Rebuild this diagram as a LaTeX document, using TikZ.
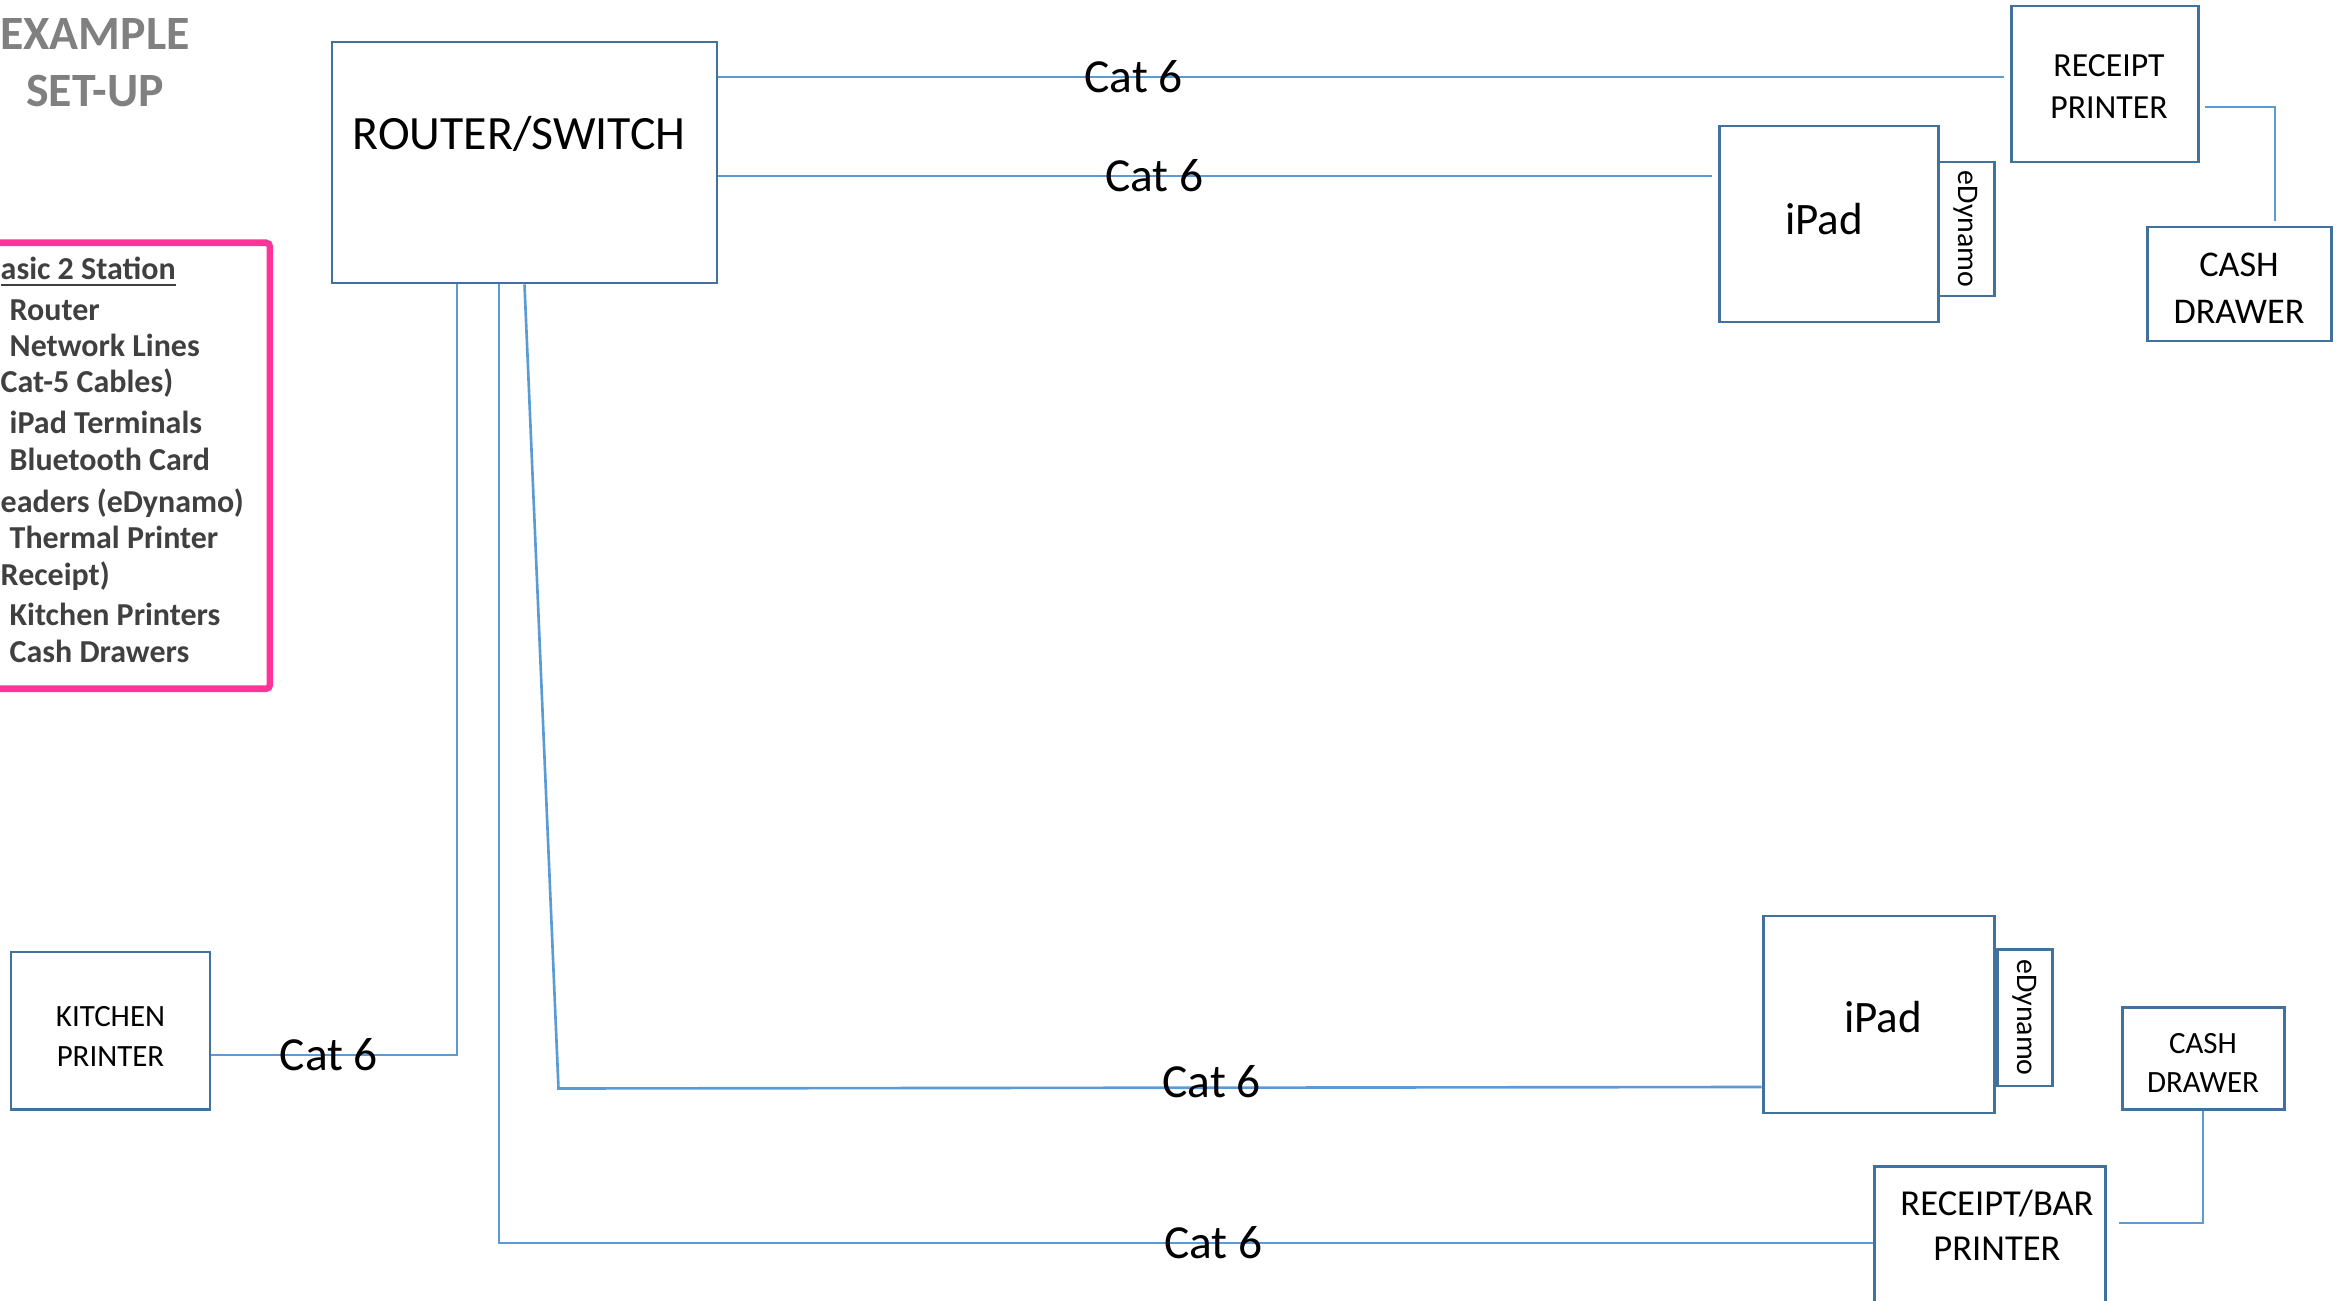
\documentclass[tikz,border=0pt]{standalone}
\usepackage{fontspec}
\setmainfont{Carlito}
\usepackage{tikz}
\usetikzlibrary{calc}

\definecolor{boxblue}{HTML}{41719C}
\definecolor{cableblue}{HTML}{5B9BD5}
\definecolor{legendpink}{HTML}{FF3399}
\definecolor{titlegray}{HTML}{808080}
\definecolor{listgray}{HTML}{404040}

\tikzset{
  device/.style={draw=boxblue, line width=0.85pt, inner sep=0pt, align=center, fill=white},
  devtext/.style={align=center, inner sep=0pt},
  cable/.style={draw=cableblue, line width=0.75pt},
  catlabel/.style={font=\fontsize{13.5}{16}\selectfont, inner sep=0pt},
  legendtext/.style={font=\bfseries\fontsize{9.1}{11}\selectfont, text=listgray, inner sep=0pt, anchor=base west},
}

\begin{document}
\begin{tikzpicture}[x=0.1mm, y=-0.1mm]
\useasboundingbox (0,0) rectangle (2341,1301);
\clip (0,0) rectangle (2341,1301);

% title and legend
\node (title) [font=\bfseries\fontsize{13.6}{16.2}\selectfont, text=titlegray, align=center] at (95,63) {EXAMPLE\\SET-UP};
\node (legendframe) [draw=legendpink, line width=1.85pt, rounded corners=1pt, minimum width=3.3cm, minimum height=4.46cm, anchor=north east] at (273,239.5) {};
\foreach \y/\x/\t [count=\i] in {280/0/{\underline{asic 2 Station}}, 320/9/{Router}, 357/9/{Network Lines},
    393/0/{Cat-5 Cables)}, 433/9/{iPad Terminals}, 470/9/{Bluetooth Card}, 512/0/{eaders (eDynamo)},
    548/9/{Thermal Printer}, 585/0/{Receipt)}, 625/9/{Kitchen Printers}, 662/9/{Cash Drawers}}
  \node (item\i) [legendtext] at (\x,\y) {\t};

% devices
\node (router) [device, minimum width=3.85cm, minimum height=2.41cm,
  label={[devtext, font=\fontsize{13.6}{16}\selectfont, xshift=-0.55mm, yshift=2.85mm]center:ROUTER/SWITCH}] at (524.5,162.5) {};
\node (rcptA) [device, minimum width=1.87cm, minimum height=1.56cm,
  label={[devtext, font=\fontsize{9.6}{11.95}\selectfont, xshift=0.45mm, yshift=-0.3mm]center:RECEIPT\\PRINTER}] at (2104.5,84) {};
\node (ipadA) [device, minimum width=2.19cm, minimum height=1.96cm,
  label={[devtext, font=\fontsize{12.8}{15}\selectfont, xshift=-0.45mm, yshift=0.45mm]center:iPad}] at (1828.5,224) {};
\node (edynA) [device, rotate=-90, minimum width=1.34cm, minimum height=0.56cm, font=\fontsize{8.5}{10}\selectfont] at (1966,229) {eDynamo};
\node (cashA) [device, minimum width=1.84cm, minimum height=1.14cm,
  label={[devtext, font=\fontsize{10.3}{13.4}\selectfont, yshift=-0.4mm]center:CASH\\DRAWER}] at (2239,284) {};
\node (kitchen) [device, minimum width=1.99cm, minimum height=1.57cm,
  label={[devtext, font=\fontsize{8.8}{11.4}\selectfont, yshift=-0.6mm]center:KITCHEN\\PRINTER}] at (110.5,1030.5) {};
\node (ipadB) [device, minimum width=2.31cm, minimum height=1.97cm,
  label={[devtext, font=\fontsize{12.8}{15}\selectfont, xshift=0.45mm, yshift=-0.3mm]center:iPad}] at (1878.5,1014.5) {};
\node (edynB) [device, rotate=-90, minimum width=1.37cm, minimum height=0.55cm, font=\fontsize{8.5}{10}\selectfont] at (2024.5,1017.5) {eDynamo};
\node (cashB) [device, minimum width=1.62cm, minimum height=1.02cm,
  label={[devtext, font=\fontsize{8.8}{11.1}\selectfont, yshift=-0.45mm]center:CASH\\DRAWER}] at (2203,1058) {};
\node (rbar) [device, minimum width=2.31cm, minimum height=1.54cm,
  label={[devtext, font=\fontsize{10.4}{12.8}\selectfont, xshift=0.75mm, yshift=1.8mm]center:RECEIPT/BAR\\PRINTER}] at (1989.5,1243) {};

% cables
\coordinate (rcptAin) at ([xshift=-0.6mm, yshift=0.7mm]rcptA.west);
\coordinate (ipadAin) at ([xshift=-0.6mm, yshift=4.8mm]ipadA.west);
\draw[cable] (router.east |- rcptAin) -- (rcptAin) node[catlabel, pos=0.323] (cat1) {Cat 6};
\draw[cable] (router.east |- ipadAin) -- (ipadAin) node[catlabel, pos=0.439] (cat2) {Cat 6};

\coordinate (rcptAout) at ([xshift=0.5mm, yshift=-2.3mm]rcptA.east);
\coordinate (cashAin) at ([xshift=3.6mm, yshift=0.5mm]cashA.north);
\draw[cable] (rcptAout) -| (cashAin);

\draw[cable] ([xshift=-6.75mm]router.south) |- ([yshift=-2.45mm]kitchen.east) node[catlabel, pos=0.761] (cat3) {Cat 6};
\draw[cable] (router.south) -- ++(3.4mm,-80.4mm) -- ([yshift=-7.25mm]ipadB.west) node[catlabel, pos=0.543, yshift=0.6mm] (cat4) {Cat 6};
\draw[cable] ([xshift=-2.55mm]router.south) |- (rbar.west) node[catlabel, pos=0.76] (cat5) {Cat 6};

\coordinate (rbarout) at ([xshift=1.2mm, yshift=2mm]rbar.east);
\draw[cable] (cashB.south) |- (rbarout);
\end{tikzpicture}
\end{document}
